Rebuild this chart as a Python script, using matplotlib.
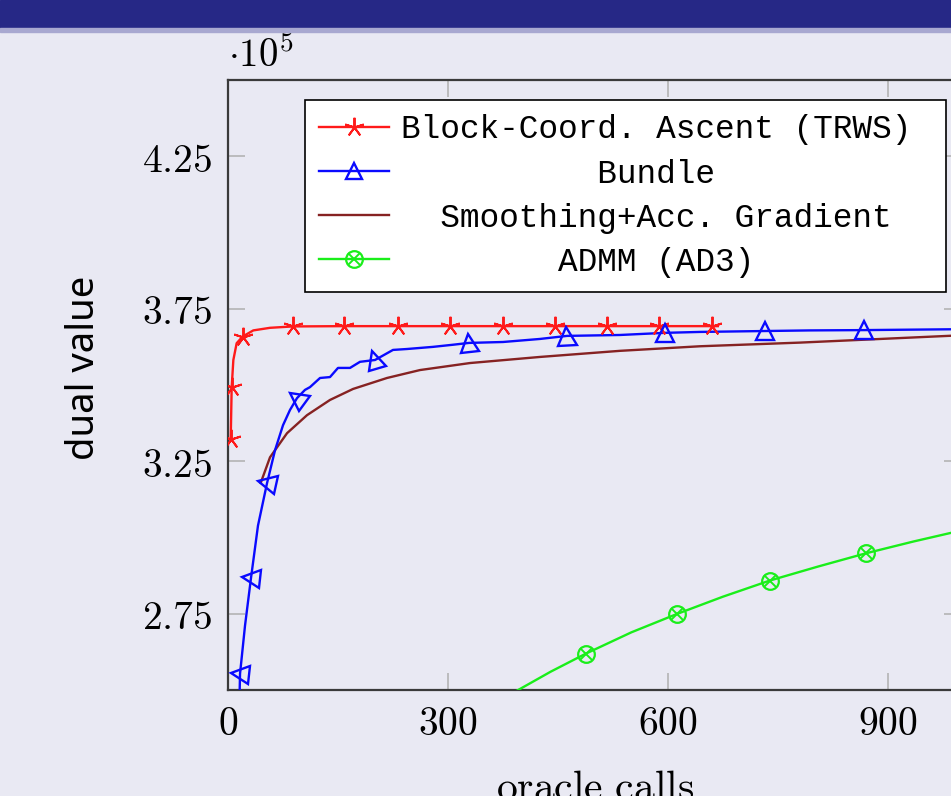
import numpy as np
import matplotlib
matplotlib.use("Agg")
import matplotlib.pyplot as plt
from matplotlib.markers import MarkerStyle
from matplotlib.transforms import Affine2D
from matplotlib.lines import Line2D
from matplotlib.legend_handler import HandlerTuple
from matplotlib.patches import Rectangle
from matplotlib.ticker import FuncFormatter

plt.rcParams['mathtext.fontset'] = 'cm'

# ---------------- data (dual value in units of 1e5) ----------------
trws_x = [3.7, 5.0, 7.3, 11.8, 20.0, 34.5, 57.3, 88.2, 158.6, 231.4, 302.7, 374.6,
          445.9, 516.8, 587.7, 660.0, 668.0]
trws_y = [3.322, 3.492, 3.582, 3.637, 3.659, 3.679, 3.6875, 3.692, 3.693, 3.693,
          3.693, 3.693, 3.693, 3.693, 3.693, 3.693, 3.693]
trws_marks = [0, 1, 4, 7, 8, 9, 10, 11, 12, 13, 14, 15]

bundle_x = [15.5, 16.4, 23.2, 31.4, 40.9, 53.2, 64.1, 75.0, 84.5, 94.1, 105.0, 111.8,
            125.5, 139.1, 150.0, 166.4, 180.0, 200.5, 225.0, 244.0, 279.5, 306.8,
            328.7, 375.0, 425.5, 462.3, 534.5, 596.0, 643.6, 732.3, 793.6, 867.3, 1000.0]
bundle_y = [2.45, 2.553, 2.711, 2.868, 3.039, 3.178, 3.286, 3.368, 3.418, 3.457, 3.484,
            3.493, 3.523, 3.526, 3.556, 3.556, 3.576, 3.582, 3.615, 3.618, 3.625, 3.632,
            3.638, 3.641, 3.651, 3.661, 3.664, 3.671, 3.674, 3.677, 3.679, 3.680, 3.683]
bundle_marks = [1, 3, 5, 9, 17, 22, 25, 27, 29, 31]

smooth_x = [44.6, 57.3, 80.5, 107.7, 139.1, 170.5, 216.8, 261.8, 330.0, 425.5, 534.5,
            643.6, 780.0, 1000.0]
smooth_y = [3.179, 3.263, 3.342, 3.401, 3.451, 3.487, 3.523, 3.549, 3.572, 3.592,
            3.612, 3.627, 3.639, 3.663]

admm_x = [392, 440, 487.8, 550, 611.9, 675, 739.1, 805, 869.6, 935, 1000]
admm_y = [2.495, 2.560, 2.619, 2.689, 2.749, 2.806, 2.859, 2.905, 2.948, 2.987, 3.023]
admm_marks = [2, 4, 6, 8]

labels = ["Block-Coord. Ascent (TRWS) ",
          "          Bundle",
          "  Smoothing+Acc. Gradient",
          "        ADMM (AD3)"]

x_ticks = [0, 300, 600, 900]
y_ticks = [2.75, 3.25, 3.75, 4.25]

# ---------------- styles ----------------
BG = '#e9e9f3'
RED = '#ff1a1a'
BLUE = '#0a0aff'
BROWN = '#862222'
GREEN = '#1aee1a'

W, H = 951, 796
fig = plt.figure(figsize=(W / 100, H / 100), dpi=100, facecolor=BG)

# slide header bar
fig.add_artist(Rectangle((0, 1 - 28 / H), 1, 28 / H, transform=fig.transFigure,
                         color='#262886', zorder=0))
fig.add_artist(Rectangle((0, 1 - 32 / H), 1, 4 / H, transform=fig.transFigure,
                         color='#a8a8d0', zorder=0))

ax_l, ax_r, ax_t, ax_b = 228, 961.3, 80, 690
ax = fig.add_axes([ax_l / W, 1 - ax_b / H, (ax_r - ax_l) / W, (ax_b - ax_t) / H])
ax.set_facecolor(BG)
ax.set_xlim(0, 1000)
ax.set_ylim(2.5, 4.5)

lw = 1.7
ax.plot(trws_x, trws_y, color=RED, lw=lw, marker=(5, 2, 0), ms=14, mew=1.4,
        markevery=trws_marks, zorder=4)
ax.plot(smooth_x, smooth_y, color=BROWN, lw=lw, zorder=3)
ax.plot(bundle_x, bundle_y, color=BLUE, lw=lw, zorder=3)
ax.plot(admm_x, admm_y, color=GREEN, lw=lw, zorder=3)
ax.plot([admm_x[i] for i in admm_marks], [admm_y[i] for i in admm_marks], ls='none',
        marker='o', ms=12, mfc='none', mec=GREEN, mew=1.6, zorder=4)
ax.plot([admm_x[i] for i in admm_marks], [admm_y[i] for i in admm_marks], ls='none',
        marker='x', ms=8, mec=GREEN, mew=1.4, zorder=4)

# rotated triangle marks following the curve direction
fig.canvas.draw()
pts = ax.transData.transform(np.column_stack([bundle_x, bundle_y]))
for i in bundle_marks:
    d = pts[min(i + 2, len(pts) - 1)] - pts[max(i - 2, 0)]
    ang = np.degrees(np.arctan2(d[1], d[0]))
    ms = MarkerStyle('^', fillstyle='none', transform=Affine2D().rotate_deg(ang))
    ax.plot([bundle_x[i]], [bundle_y[i]], ls='none', marker=ms, ms=13, mec=BLUE,
            mew=1.7, zorder=4)

# axes styling
for s in ax.spines.values():
    s.set_color('#3a3a3a')
    s.set_linewidth(1.6)
ax.set_xticks(x_ticks)
ax.set_yticks(y_ticks)
ax.xaxis.set_major_formatter(FuncFormatter(lambda v, p: f'${v:.0f}$'))
ax.yaxis.set_major_formatter(FuncFormatter(lambda v, p: f'${v:.2f}$'))
ax.tick_params(direction='in', length=12, width=1.2, color='#b4b4b4',
               top=True, right=True, labelsize=28.5)
ax.tick_params(axis='x', pad=10)
ax.tick_params(axis='y', pad=11)

# legend
h_trws = Line2D([], [], color=RED, lw=lw, marker=(5, 2, 0), ms=14, mew=1.4)
h_bund = Line2D([], [], color=BLUE, lw=lw, marker='^', ms=12, mfc='none', mew=1.7)
h_smo = Line2D([], [], color=BROWN, lw=lw)
h_adm1 = Line2D([], [], color=GREEN, lw=lw, marker='o', ms=12, mfc='none', mew=1.6)
h_adm2 = Line2D([], [], ls='none', color=GREEN, marker='x', ms=8, mew=1.4)
leg = ax.legend([h_trws, h_bund, h_smo, (h_adm1, h_adm2)], labels,
                handler_map={tuple: HandlerTuple(ndivide=1)},
                loc='upper left', bbox_to_anchor=(305 / W, 1 - 100 / H),
                bbox_transform=fig.transFigure, borderaxespad=0,
                prop={'family': 'Liberation Mono', 'size': 23.6},
                handlelength=2.13, handletextpad=0.37, borderpad=0.44,
                labelspacing=0.40, numpoints=1, fancybox=False, framealpha=1,
                facecolor='white', edgecolor='black')
leg.get_frame().set_linewidth(1.2)
leg.set_zorder(6)

# texts
fig.text(228 / W, 1 - 67 / H, r'$\cdot 10^{5}$', fontsize=28, ha='left', va='baseline')
fig.text(84 / W, 1 - 368 / H, 'dual value', rotation=90, ha='center', va='center',
         fontsize=27.5, family='Noto Sans')
fig.text((ax_l + ax_r) / 2 / W, 1 - 800 / H, r'$\mathrm{oracle\ calls}$', fontsize=30,
         ha='center', va='baseline')

fig.savefig('out.png', dpi=100, facecolor=BG)
